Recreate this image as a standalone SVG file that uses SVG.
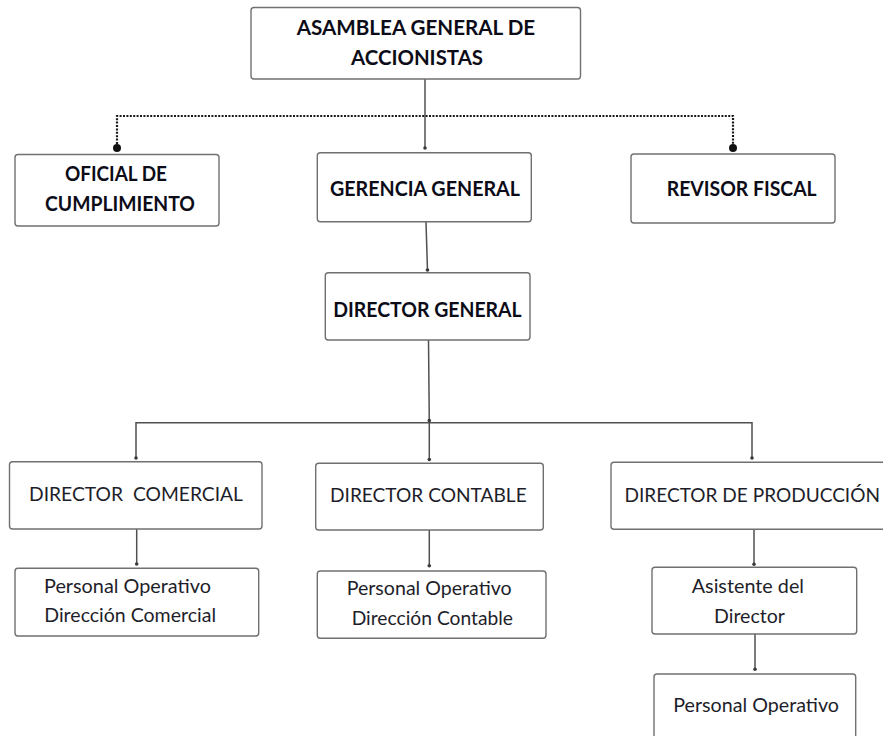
<svg xmlns="http://www.w3.org/2000/svg" width="883" height="736" viewBox="0 0 883 736">
<style>
.box{fill:#fff;stroke:#707070;stroke-width:1.4}
.b{font-family:Lato,"Liberation Sans",sans-serif;font-weight:bold;font-size:20.5px;fill:#0c0c18}
.r{font-family:Lato,"Liberation Sans",sans-serif;font-size:20px;fill:#1e1e2a}
.ln{fill:none;stroke:#505050;stroke-width:1.5}
.dot{fill:#3a3a3a}
.dl{fill:none;stroke:#1a1a1a;stroke-width:2.2;stroke-dasharray:2 1.4}
</style>
<rect width="883" height="736" fill="#fff"/>
<g id="connectors">
<path class="ln" d="M425,79 V148"/><circle class="dot" cx="425" cy="148" r="1.8"/>
<path class="dl" d="M117,144 V116 H733 V144"/>
<circle cx="117" cy="148" r="4" fill="#111"/><circle cx="733" cy="148" r="4" fill="#111"/>
<path class="ln" d="M426,222 L427.5,270"/><circle class="dot" cx="427.5" cy="270" r="1.8"/>
<path class="ln" d="M428.5,340 L429.3,422.7"/>
<path class="ln" d="M136,458 V422.7 H752 V458"/><circle class="dot" cx="136" cy="458" r="1.8"/><circle class="dot" cx="752" cy="458" r="1.8"/>
<path class="ln" d="M429.3,420 V459.5"/><circle class="dot" cx="429.3" cy="420.5" r="1.8"/><circle class="dot" cx="429.3" cy="459.5" r="1.8"/>
<path class="ln" d="M136.7,529 V564"/><circle class="dot" cx="136.7" cy="564" r="1.8"/>
<path class="ln" d="M429.3,530 V565.7"/><circle class="dot" cx="429.3" cy="565.7" r="1.8"/>
<path class="ln" d="M754,529 V564.3"/><circle class="dot" cx="754" cy="564.3" r="1.8"/>
<path class="ln" d="M755,634 V669.3"/><circle class="dot" cx="755" cy="669.3" r="1.8"/>
</g>
<g id="asamblea"><rect class="box" x="251" y="7.5" width="329.5" height="71.5" rx="3"/>
<text class="b" x="296.7" y="35" textLength="238.5" lengthAdjust="spacingAndGlyphs">ASAMBLEA GENERAL DE</text>
<text class="b" x="351" y="65" textLength="132" lengthAdjust="spacingAndGlyphs">ACCIONISTAS</text></g>
<g id="oficial"><rect class="box" x="15" y="154.5" width="204" height="71.5" rx="3"/>
<text class="b" x="65" y="181" textLength="102" lengthAdjust="spacingAndGlyphs">OFICIAL DE</text>
<text class="b" x="45" y="211" textLength="150" lengthAdjust="spacingAndGlyphs">CUMPLIMIENTO</text></g>
<g id="gerencia"><rect class="box" x="317.3" y="152.7" width="214" height="69" rx="3"/>
<text class="b" x="330" y="196" textLength="190" lengthAdjust="spacingAndGlyphs">GERENCIA GENERAL</text></g>
<g id="revisor"><rect class="box" x="631" y="154" width="204" height="69" rx="3"/>
<text class="b" x="666.7" y="195.7" textLength="150" lengthAdjust="spacingAndGlyphs">REVISOR FISCAL</text></g>
<g id="director-general"><rect class="box" x="325.3" y="272.7" width="204.7" height="67.3" rx="3"/>
<text class="b" x="333.3" y="317.3" textLength="188.4" lengthAdjust="spacingAndGlyphs">DIRECTOR GENERAL</text></g>
<g id="director-comercial"><rect class="box" x="9.5" y="461.7" width="252.5" height="67.3" rx="3"/>
<text class="r" x="29" y="500.7" textLength="214" lengthAdjust="spacingAndGlyphs" xml:space="preserve">DIRECTOR  COMERCIAL</text></g>
<g id="director-contable"><rect class="box" x="315.7" y="463.3" width="227.6" height="66.7" rx="3"/>
<text class="r" x="330" y="501.7" textLength="196.7" lengthAdjust="spacingAndGlyphs">DIRECTOR CONTABLE</text></g>
<g id="director-produccion"><rect class="box" x="611" y="462.3" width="280" height="67" rx="3"/>
<text class="r" x="624.5" y="501.7" textLength="255.5" lengthAdjust="spacingAndGlyphs">DIRECTOR DE PRODUCCIÓN</text></g>
<g id="po-comercial"><rect class="box" x="15" y="568.3" width="243.7" height="67.7" rx="3"/>
<text class="r" x="44" y="592.7" textLength="167" lengthAdjust="spacingAndGlyphs">Personal Operativo</text>
<text class="r" x="44.3" y="621.7" textLength="171.7" lengthAdjust="spacingAndGlyphs">Dirección Comercial</text></g>
<g id="po-contable"><rect class="box" x="317.3" y="571" width="228.7" height="67.3" rx="3"/>
<text class="r" x="346.7" y="595" textLength="165" lengthAdjust="spacingAndGlyphs">Personal Operativo</text>
<text class="r" x="351.7" y="625" textLength="161.3" lengthAdjust="spacingAndGlyphs">Dirección Contable</text></g>
<g id="asistente"><rect class="box" x="652" y="567.3" width="204.7" height="66.7" rx="3"/>
<text class="r" x="691.7" y="592.7" textLength="112.3" lengthAdjust="spacingAndGlyphs">Asistente del</text>
<text class="r" x="714" y="622.7" textLength="71" lengthAdjust="spacingAndGlyphs">Director</text></g>
<g id="personal-operativo"><rect class="box" x="654" y="674" width="201.7" height="70" rx="3"/>
<text class="r" x="673.3" y="711.7" textLength="165.7" lengthAdjust="spacingAndGlyphs">Personal Operativo</text></g>
</svg>
